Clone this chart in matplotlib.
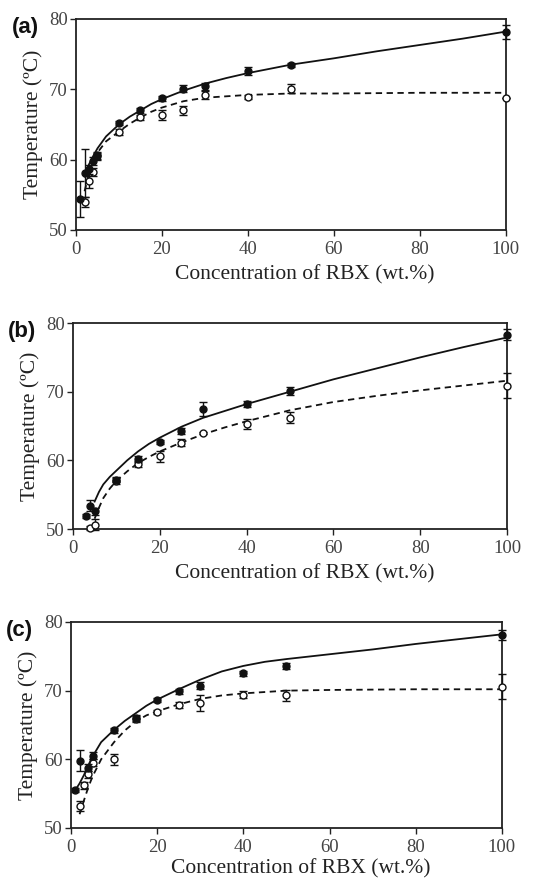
import numpy as np
import matplotlib
matplotlib.use("Agg")
import matplotlib.pyplot as plt

plt.rcParams['font.family'] = ['Liberation Serif', 'DejaVu Serif']

# ---- panel (a) ----
a_fill_x = [1, 2, 3, 4, 5, 10, 15, 20, 25, 30, 40, 50, 100]
a_fill_y = [54.4, 58.1, 58.6, 59.8, 60.6, 65.2, 67.0, 68.7, 70.1, 70.4, 72.6, 73.4, 78.1]
a_fill_e = [2.5, 3.4, 0.6, 0.5, 0.5, 0.3, 0.4, 0.3, 0.5, 0.5, 0.5, 0.3, 1.0]
a_open_x = [2, 3, 4, 5, 10, 15, 20, 25, 30, 40, 50, 100]
a_open_y = [54.0, 57.0, 58.2, 60.5, 63.9, 66.0, 66.3, 67.0, 69.2, 68.9, 70.1, 68.8]
a_open_e = [0.7, 1.0, 0.6, 0.5, 0.4, 0.4, 0.7, 0.6, 0.6, 0.3, 0.6, 0.0]
a_solid_x = [2, 3, 4, 5, 7, 10, 12.5, 15, 17.5, 20, 25, 30, 35, 40, 45, 50, 60, 70, 80, 90, 100]
a_solid_y = [57.6, 59.3, 60.5, 61.6, 63.3, 65.0, 66.1, 67.0, 67.9, 68.6, 69.8, 70.8, 71.6, 72.3, 72.9, 73.5, 74.4, 75.4, 76.3, 77.2, 78.2]
a_dash_x = [2, 3, 4, 5, 7, 10, 12.5, 15, 17.5, 20, 25, 30, 35, 40, 50, 60, 80, 100]
a_dash_y = [55.5, 58.0, 59.8, 61.0, 62.6, 64.0, 65.1, 66.0, 66.8, 67.4, 68.3, 68.8, 69.0, 69.2, 69.4, 69.4, 69.5, 69.5]

# ---- panel (b) ----
b_fill_x = [3, 4, 5, 10, 15, 20, 25, 30, 40, 50, 100]
b_fill_y = [51.9, 53.4, 52.6, 57.2, 60.2, 62.7, 64.3, 67.5, 68.2, 70.1, 78.3]
b_fill_e = [0.3, 0.8, 0.5, 0.4, 0.4, 0.3, 0.4, 1.0, 0.4, 0.6, 0.8]
b_open_x = [4, 5, 10, 15, 20, 25, 30, 40, 50, 100]
b_open_y = [50.1, 50.6, 57.0, 59.5, 60.6, 62.6, 64.0, 65.3, 66.2, 70.9]
b_open_e = [0.3, 0.8, 0.4, 0.4, 0.8, 0.5, 0.2, 0.7, 0.8, 1.8]
b_solid_x = [5, 6, 7, 8.5, 10, 12.5, 15, 17.5, 20, 25, 30, 35, 40, 45, 50, 60, 70, 80, 90, 100]
b_solid_y = [54.0, 55.4, 56.5, 57.6, 58.5, 60.0, 61.3, 62.4, 63.3, 64.9, 66.2, 67.2, 68.2, 69.1, 70.0, 71.8, 73.4, 75.0, 76.5, 77.9]
b_dash_x = [5, 6, 7, 8.5, 10, 12.5, 15, 17.5, 20, 25, 30, 35, 40, 45, 50, 60, 70, 80, 90, 100]
b_dash_y = [51.5, 53.1, 54.5, 55.9, 57.0, 58.4, 59.6, 60.5, 61.3, 62.6, 63.8, 64.8, 65.7, 66.5, 67.3, 68.5, 69.4, 70.2, 70.9, 71.6]

# ---- panel (c) ----
c_fill_x = [1, 2, 4, 5, 10, 15, 20, 25, 30, 40, 50, 100]
c_fill_y = [55.5, 59.8, 58.8, 60.5, 64.2, 66.0, 68.6, 69.9, 70.7, 72.5, 73.6, 78.1]
c_fill_e = [0.3, 1.5, 0.5, 0.5, 0.4, 0.4, 0.3, 0.4, 0.5, 0.3, 0.4, 0.7]
c_open_x = [2, 3, 4, 5, 10, 15, 20, 25, 30, 40, 50, 100]
c_open_y = [53.2, 56.2, 57.8, 59.5, 60.0, 65.9, 66.9, 67.9, 68.2, 69.4, 69.3, 70.6]
c_open_e = [0.7, 0.5, 0.5, 0.5, 0.8, 0.4, 0.3, 0.4, 1.2, 0.5, 0.8, 1.8]
c_solid_x = [1, 2, 3, 4, 5, 7, 10, 12.5, 15, 17.5, 20, 25, 30, 35, 40, 45, 50, 60, 70, 80, 90, 100]
c_solid_y = [55.5, 56.5, 57.7, 59.1, 60.4, 62.5, 64.3, 65.6, 66.7, 67.8, 68.7, 70.2, 71.6, 72.8, 73.6, 74.2, 74.6, 75.3, 76.0, 76.8, 77.5, 78.2]
c_dash_x = [2, 3, 4, 5, 7, 10, 12.5, 15, 17.5, 20, 25, 30, 35, 40, 50, 60, 80, 100]
c_dash_y = [52.0, 54.0, 55.9, 57.5, 60.0, 62.5, 64.2, 65.5, 66.4, 67.0, 68.0, 68.8, 69.3, 69.6, 70.0, 70.1, 70.2, 70.2]

panels = [
    ("(a)", [0.1397, 0.739, 0.790, 0.2395], 5,
     a_fill_x, a_fill_y, a_fill_e, a_open_x, a_open_y, a_open_e,
     a_solid_x, a_solid_y, a_dash_x, a_dash_y),
    ("(b)", [0.134, 0.3995, 0.798, 0.2338], 5,
     b_fill_x, b_fill_y, b_fill_e, b_open_x, b_open_y, b_open_e,
     b_solid_x, b_solid_y, b_dash_x, b_dash_y),
    ("(c)", [0.1305, 0.0602, 0.792, 0.2338], 2,
     c_fill_x, c_fill_y, c_fill_e, c_open_x, c_open_y, c_open_e,
     c_solid_x, c_solid_y, c_dash_x, c_dash_y),
]

fig = plt.figure(figsize=(5.44, 8.81), dpi=100)

for (tag, rect, lpad, fx, fy, fe, ox, oy, oe, sx, sy, dx, dy) in panels:
    ax = fig.add_axes(rect)
    ax.plot(sx, sy, color='#111111', lw=1.3, zorder=2)
    ax.plot(dx, dy, color='#111111', lw=1.3, ls=(0, (3.5, 2.5)), zorder=2)
    # open = dashed fit, filled = solid fit
    eb = ax.errorbar(ox, oy, yerr=oe, fmt='o', ms=5, mfc='white', mec='#111111', mew=1.0,
                     ecolor='#111111', elinewidth=1.0, capsize=3, capthick=1.0, zorder=3)
    for art in eb.get_children():
        art.set_clip_on(False)
    eb = ax.errorbar(fx, fy, yerr=fe, fmt='o', ms=5, mfc='#111111', mec='#111111',
                     ecolor='#111111', elinewidth=1.0, capsize=3, capthick=1.0, zorder=4)
    for art in eb.get_children():
        art.set_clip_on(False)
    ax.set_xlim(0, 100)
    ax.set_ylim(50, 80)
    ax.set_xticks([0, 20, 40, 60, 80, 100])
    ax.set_yticks([50, 60, 70, 80])
    ax.tick_params(direction='out', length=4, width=1.0, labelsize=13.5,
                   colors='#222222', labelcolor='#444444', pad=2)
    ax.tick_params(axis='x', pad=4)
    for s in ax.spines.values():
        s.set_linewidth(1.3)
        s.set_color('#222222')
    ax.set_xlabel("Concentration of RBX (wt.%)", fontsize=15.5, color='#222222', labelpad=lpad)
    ax.xaxis.label.set_x(0.533)
    ax.set_ylabel("Temperature (ºC)", fontsize=15.5, color='#222222', labelpad=4)
    ax.text(-0.15, 0.96, tag, transform=ax.transAxes, fontsize=16, fontweight='bold',
            family='Liberation Sans', ha='left', va='center', color='#111111')

fig.savefig("out.png", dpi=100)
